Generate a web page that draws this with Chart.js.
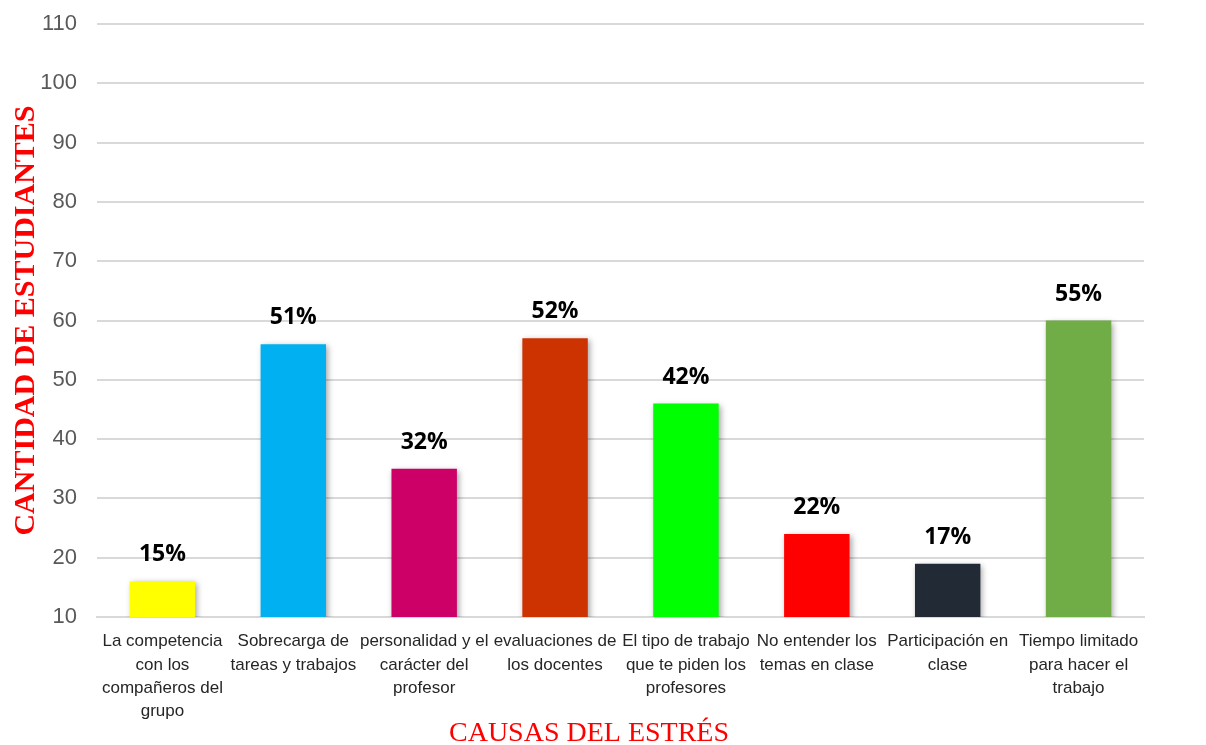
<!DOCTYPE html>
<html lang="es">
<head>
  <meta charset="UTF-8">
  <title>Causas del estrés</title>
  <script src="https://cdn.jsdelivr.net/npm/chart.js"></script>
  <style>
    html, body { margin: 0; padding: 0; background: #fff; }
    #wrap { position: relative; width: 1206px; height: 745px; }
  </style>
</head>
<body>
  <div id="wrap"><canvas id="chartCanvas"></canvas></div>
  <script>
    // categorias (ya partidas en lineas como en la imagen)
    const categorias = [
      ['La competencia', 'con los', 'compañeros del', 'grupo'],
      ['Sobrecarga de', 'tareas y trabajos'],
      ['personalidad y el', 'carácter del', 'profesor'],
      ['evaluaciones de', 'los docentes'],
      ['El tipo de trabajo', 'que te piden los', 'profesores'],
      ['No entender los', 'temas en clase'],
      ['Participación en', 'clase'],
      ['Tiempo limitado', 'para hacer el', 'trabajo']
    ];
    const cantidades = [16, 56, 35, 57, 46, 24, 19, 60];
    const porcentajes = ['15%', '51%', '32%', '52%', '42%', '22%', '17%', '55%'];
    const colores = ['#FFFF00', '#00B0F0', '#CC0066', '#CC3300', '#00FF00', '#FF0000', '#222A35', '#70AD47'];
    const ticksY = { min: 10, max: 110, step: 10 };

    // sombra suave de las barras
    const sombra = {
      id: 'sombra',
      beforeDatasetsDraw(chart) {
        const ctx = chart.ctx;
        ctx.save();
        ctx.shadowColor = 'rgba(0,0,0,0.35)';
        ctx.shadowBlur = 6;
        ctx.shadowOffsetX = 2;
        ctx.shadowOffsetY = 2;
      },
      afterDatasetsDraw(chart) {
        chart.ctx.restore();
      }
    };

    // porcentajes encima de cada barra + titulo del eje x
    const etiquetas = {
      id: 'etiquetas',
      afterDraw(chart) {
        const ctx = chart.ctx;
        const meta = chart.getDatasetMeta(0);
        ctx.save();
        ctx.fillStyle = '#000';
        ctx.font = 'bold 23px "Open Sans"';
        ctx.textAlign = 'center';
        ctx.textBaseline = 'alphabetic';
        meta.data.forEach((bar, i) => {
          ctx.fillText(porcentajes[i], bar.x, bar.y - 20);
        });
        ctx.fillStyle = '#FF0000';
        ctx.font = '28px "Liberation Serif"';
        ctx.textBaseline = 'middle';
        ctx.fillText('CAUSAS DEL ESTRÉS', 589, 734);
        ctx.restore();
      }
    };

    const ctx = document.getElementById('chartCanvas').getContext('2d');
    new Chart(ctx, {
      type: 'bar',
      data: {
        labels: categorias,
        datasets: [{
          data: cantidades,
          backgroundColor: colores,
          borderWidth: 0,
          barPercentage: 0.5,
          categoryPercentage: 1
        }]
      },
      options: {
        responsive: true,
        maintainAspectRatio: false,
        animation: false,
        layout: { padding: { top: 24, right: 62, left: 0, bottom: 0 } },
        plugins: {
          legend: { display: false },
          tooltip: { enabled: false }
        },
        scales: {
          x: {
            grid: { display: false },
            border: { color: '#d9d9d9', width: 2 },
            ticks: {
              autoSkip: false,
              maxRotation: 0,
              minRotation: 0,
              padding: 5,
              color: '#262626',
              font: { family: '"Liberation Sans"', size: 17, lineHeight: 1.37 }
            },
            afterFit(scale) { scale.height = 128; }
          },
          y: {
            min: ticksY.min,
            max: ticksY.max,
            grid: { color: '#d9d9d9', lineWidth: 2, drawTicks: false },
            border: { display: false },
            ticks: {
              stepSize: ticksY.step,
              padding: 20,
              color: '#595959',
              font: { family: '"Liberation Sans"', size: 22 }
            },
            title: {
              display: true,
              text: 'CANTIDAD DE ESTUDIANTES',
              color: '#FF0000',
              padding: { top: 8, bottom: 0 },
              font: { family: '"Liberation Serif"', size: 30, weight: 'bold' }
            },
            afterFit(scale) {
              scale.width = 97;
              scale.paddingTop = 0;
              scale.paddingBottom = 0;
            }
          }
        }
      },
      plugins: [sombra, etiquetas]
    });
  </script>
</body>
</html>
